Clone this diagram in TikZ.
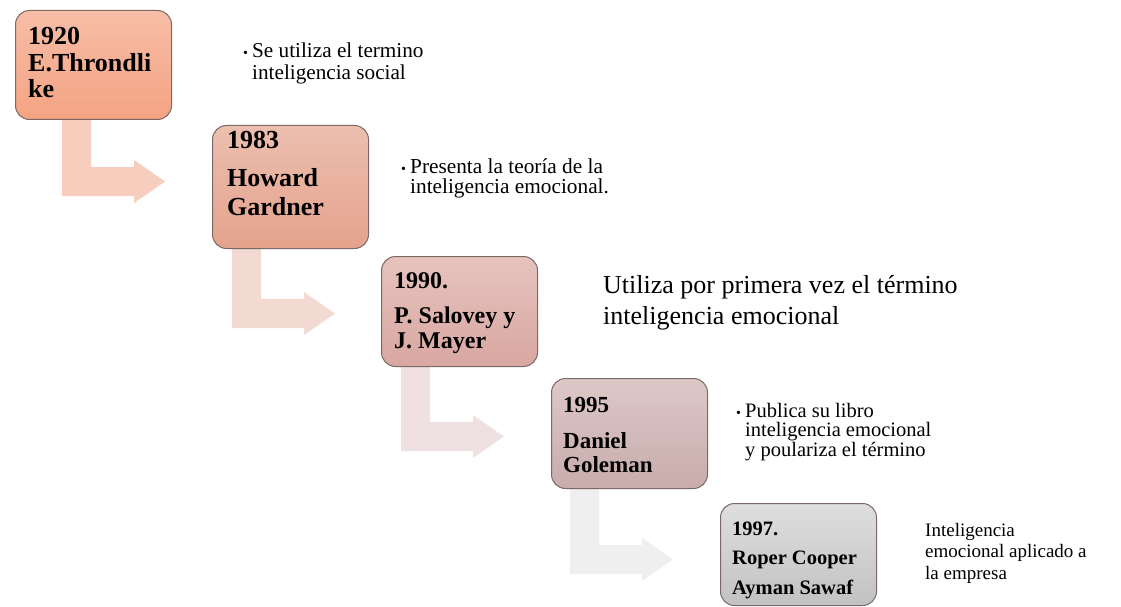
\documentclass[tikz,border=0pt]{standalone}
\usepackage{fontspec}
\setmainfont{Liberation Serif}
\usetikzlibrary{backgrounds}
\usetikzlibrary{calc}
\definecolor{boxline}{HTML}{7A6A66}
\definecolor{topA}{HTML}{F7BDA6}
\definecolor{botA}{HTML}{F4A383}
\definecolor{topB}{HTML}{ECBFAF}
\definecolor{botB}{HTML}{E4A28C}
\definecolor{topC}{HTML}{E7C3BE}
\definecolor{botC}{HTML}{D8A7A1}
\definecolor{topD}{HTML}{DDC8C8}
\definecolor{botD}{HTML}{C9ABAB}
\definecolor{topE}{HTML}{DEDEDE}
\definecolor{botE}{HTML}{C2C2C2}
\definecolor{arrowA}{HTML}{F7CDBD}
\definecolor{arrowB}{HTML}{F2D9D1}
\definecolor{arrowC}{HTML}{EFE1E1}
\definecolor{arrowD}{HTML}{EFEFEF}
\newcommand{\bul}{\makebox[9pt][l]{\fontsize{14}{14}\selectfont\textbullet}}
\begin{document}
\begin{tikzpicture}
  [
    x=1pt, y=-1pt,
    box/.style 2 args={
      draw=boxline,
      line width=1pt,
      rounded corners=14pt,
      top color=#1,
      bottom color=#2,
      anchor=north west,
      inner sep=0pt
    },
    who/.style 2 args={
      anchor=base west,
      inner sep=0pt,
      font=\bfseries\fontsize{#1}{#2}\selectfont
    },
    what/.style 2 args={
      anchor=base west,
      inner sep=0pt,
      font=\fontsize{#1}{#2}\selectfont
    }
  ]
    \useasboundingbox (0,0) rectangle (1121,607);
    % boxes
    \node [box={topA}{botA}, minimum width=156pt, minimum height=109pt] (b1) at (15,10) {};
    \node [box={topB}{botB}, minimum width=156pt, minimum height=123pt] (b2) at (212,125) {};
    \node [box={topC}{botC}, minimum width=156pt, minimum height=110pt] (b3) at (381,256) {};
    \node [box={topD}{botD}, minimum width=156pt, minimum height=110pt] (b4) at (551,378) {};
    \node [box={topE}{botE}, minimum width=156pt, minimum height=102pt] (b5) at (720,503) {};
    % names in the boxes
    \node [who={26}{26.5}] (w1) at (28,45) {\begin{tabular}[t]{@{}l@{}}1920\\E.Throndli\\ke\end{tabular}};
    \node [who={26}{28}] (w2) at (227,148) {\begin{tabular}[t]{@{}l@{}}1983\\[11pt]Howard\\Gardner\end{tabular}};
    \node [who={24}{25}] (w3) at (394,288) {\begin{tabular}[t]{@{}l@{}}1990.\\[10pt]P. Salovey y\\J. Mayer\end{tabular}};
    \node [who={23}{24}] (w4) at (563,412) {\begin{tabular}[t]{@{}l@{}}1995\\[12pt]Daniel\\Goleman\end{tabular}};
    \node [who={20.5}{29.5}] (w5) at (732,535) {\begin{tabular}[t]{@{}l@{}}1997.\\Roper Cooper\\Ayman Sawaf\end{tabular}};
    % descriptions
    \node [what={21.2}{21}] (d1) at (243,58) {\begin{tabular}[t]{@{}l@{}l@{}}\bul&Se utiliza el termino\\&inteligencia social\end{tabular}};
    \node [what={21.3}{20}] (d2) at (401,173) {\begin{tabular}[t]{@{}l@{}l@{}}\bul&Presenta la teoría de la\\&inteligencia emocional.\end{tabular}};
    \node [what={26}{31}] (d3) at (603,293) {\begin{tabular}[t]{@{}l@{}}Utiliza por primera vez el término\\inteligencia emocional\end{tabular}};
    \node [what={20.5}{18}] (d4) at (736,417) {\begin{tabular}[t]{@{}l@{}l@{}}\bul&Publica su libro\\&inteligencia emocional\\&y poulariza el término\end{tabular}};
    \node [what={19}{21.5}] (d5) at (925,536) {\begin{tabular}[t]{@{}l@{}}Inteligencia\\emocional aplicado a\\la empresa\end{tabular}};
    % bent arrows
    \begin{scope}[on background layer]
      \foreach \b/\dx/\len/\col in {b1/47/76/arrowA, b2/20/79/arrowB, b3/20/84/arrowC, b4/19/85/arrowD}
        \fill [\col] ($(\b.south west)+(\dx,0)$) -- ++(29,0) -- ++(0,\len-29) -- ++(43,0) -- ++(0,-7)
          -- ++(31,21.5) -- ++(-31,21.5) -- ++(0,-7) -- ++(-72,0) -- cycle;
    \end{scope}
  \end{tikzpicture}
\end{document}
